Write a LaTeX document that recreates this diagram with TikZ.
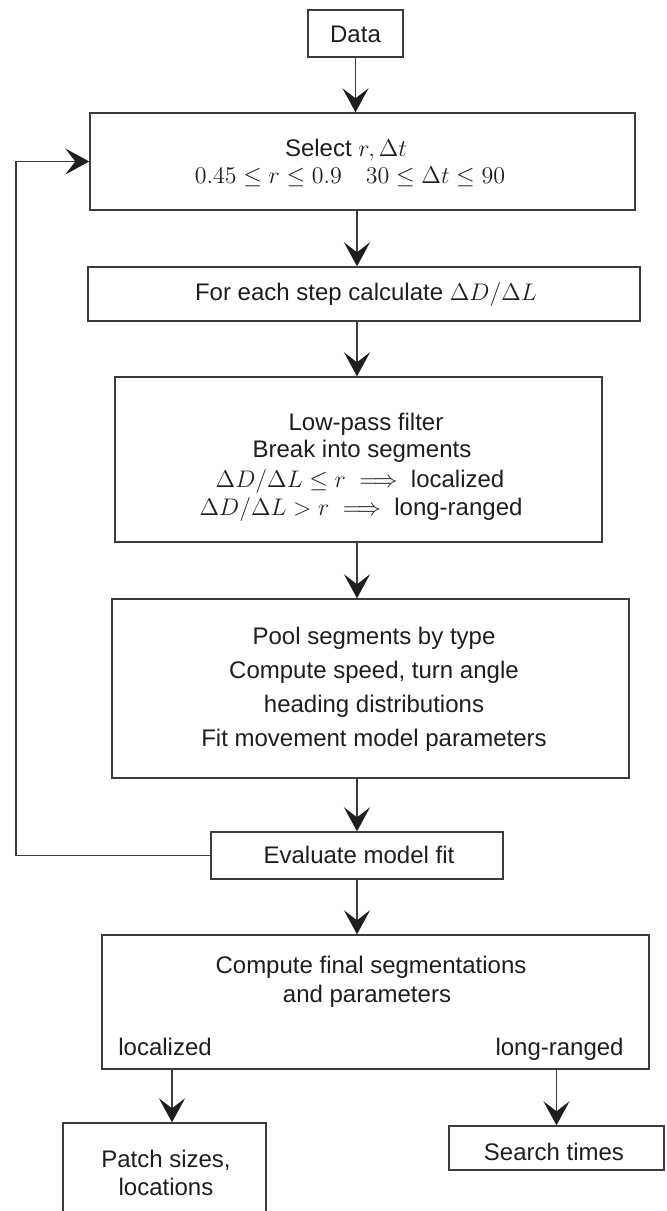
\documentclass[tikz,border=0pt]{standalone}
\usepackage{amsmath}
\usepackage[no-math]{fontspec}
\setmainfont{Liberation Sans}
\usetikzlibrary{arrows.meta}
\definecolor{ink}{HTML}{1E1E1E}
\definecolor{edge}{HTML}{3C3C3C}

\begin{document}
\begin{tikzpicture}[x=0.5pt,y=-0.5pt,
  box/.style={draw=edge, line width=0.7pt, inner sep=0pt},
  txt/.style={text=ink, inner sep=0pt, anchor=base, font=\fontsize{12}{14}\selectfont},
  flow/.style={draw=edge, line width=0.7pt,
    -{Stealth[length=12pt,width=13pt,inset=5pt,color=ink]}},
]
\useasboundingbox (0,0) rectangle (667,1211);
\clip (0,0) rectangle (667,1211);

% boxes (centre, size)
\node[box, minimum width=47.5pt, minimum height=23.5pt]  (data)   at (355.5,33.5) {};
\node[box, minimum width=272.5pt, minimum height=48.5pt] (select) at (362.5,161.5) {};
\node[box, minimum width=276pt, minimum height=27pt]     (step)   at (364,294) {};
\node[box, minimum width=243.5pt, minimum height=82.5pt] (lowpass) at (358.5,459.5) {};
\node[box, minimum width=258.5pt, minimum height=89.5pt] (pool)   at (370.5,688.5) {};
\node[box, minimum width=146pt, minimum height=23.5pt]   (eval)   at (357,855.5) {};
\node[box, minimum width=273.5pt, minimum height=67pt]   (final)  at (375.5,1002) {};
\node[box, minimum width=101.5pt, minimum height=58.5pt] (patch)  at (164.5,1181.5) {};
\node[box, minimum width=107.5pt, minimum height=22pt]   (search) at (556.5,1148) {};

% texts
\node[txt] (data-t) at (355.5,42) {Data};
\node[txt] (select-t1) at (346,156) {Select $r,\Delta t$};
\node[txt] (select-t2) at (350,183) {$0.45\le r\le 0.9\quad 30\le \Delta t\le 90$};
\node[txt] (step-t) at (366,300) {For each step calculate $\Delta D/\Delta L$};
\node[txt] (lp-t1) at (366,430) {Low-pass filter};
\node[txt] (lp-t2) at (362,457) {Break into segments};
\node[txt] (lp-t3) at (360,487) {$\Delta D/\Delta L\le r\implies$ localized};
\node[txt] (lp-t4) at (361,515) {$\Delta D/\Delta L> r\implies$ long-ranged};
\node[txt] (pool-t1) at (374,644) {Pool segments by type};
\node[txt] (pool-t2) at (374,678) {Compute speed, turn angle};
\node[txt] (pool-t3) at (374,712) {heading distributions};
\node[txt] (pool-t4) at (374,746) {Fit movement model parameters};
\node[txt] (eval-t) at (359,863) {Evaluate model fit};
\node[txt] (final-t1) at (371,973) {Compute final segmentations};
\node[txt] (final-t2) at (367,1002) {and parameters};
\node[txt, anchor=base west] (final-loc) at (118,1055) {localized};
\node[txt, anchor=base east] (final-long) at (624,1055) {long-ranged};
\node[txt] (patch-t1) at (166,1167) {Patch sizes,};
\node[txt] (patch-t2) at (166,1195) {locations};
\node[txt] (search-t) at (554,1160) {Search times};

% connector columns
\coordinate (spine) at (357,0);
\coordinate (left) at (172,0);
\coordinate (turn) at (16,0);

% main flow
\draw[flow] (data.south) -- (data.south |- select.north);
\draw[flow] (spine |- select.south) -- (spine |- step.north);
\draw[flow] (spine |- step.south) -- (spine |- lowpass.north);
\draw[flow] (spine |- lowpass.south) -- (spine |- pool.north);
\draw[flow] (spine |- pool.south) -- (spine |- eval.north);
\draw[flow] (spine |- eval.south) -- (spine |- final.north);

% feedback loop
\draw[flow] (eval.west) -- (turn |- eval.west) -- (turn |- select.west) -- (select.west);

% outputs
\draw[flow] (left |- final.south) -- (left |- patch.north);
\draw[flow] (search.north |- final.south) -- (search.north);
\end{tikzpicture}
\end{document}
